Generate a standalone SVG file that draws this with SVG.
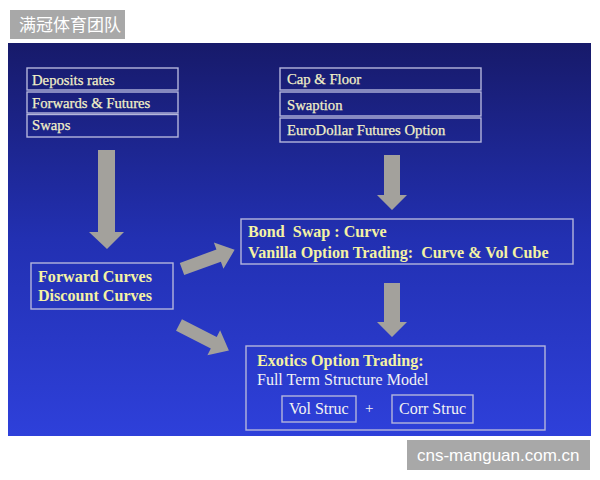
<svg xmlns="http://www.w3.org/2000/svg" width="600" height="480" viewBox="0 0 600 480">
<defs>
<linearGradient id="bg" x1="0" y1="0" x2="0" y2="1">
<stop offset="0" stop-color="#171a6a"/>
<stop offset="0.5" stop-color="#2230b2"/>
<stop offset="1" stop-color="#2e40da"/>
</linearGradient>
<style>
.box{fill:none;stroke:#b4b6dc;stroke-width:1.4}
.t{font-family:"Liberation Serif","Times New Roman",serif;font-size:14.7px;fill:#f2f0c8;stroke:#f2f0c8;stroke-width:0.25}
.b{font-family:"Liberation Serif","Times New Roman",serif;font-size:16.1px;font-weight:bold;fill:#f4f2a4}
.w{font-family:"Liberation Serif","Times New Roman",serif;font-size:16px;fill:#f2f2f2}
.arr{fill:#a3a19c}
.wm{fill:#a8a8a8}
.wmt{font-family:"Noto Sans CJK SC","Noto Sans",sans-serif;font-size:17px;fill:#ffffff}
</style>
</defs>
<rect width="600" height="480" fill="#ffffff"/>
<rect x="8" y="43" width="583" height="393" fill="url(#bg)"/>

<g id="inputs-rates">
<rect class="box" x="27" y="68" width="151" height="22"/>
<rect class="box" x="27" y="92" width="151" height="21"/>
<rect class="box" x="27" y="114.5" width="151" height="22.5"/>
<text class="t" x="32" y="85">Deposits rates</text>
<text class="t" x="32" y="108">Forwards &amp; Futures</text>
<text class="t" x="32" y="130">Swaps</text>
</g>

<g id="inputs-options">
<rect class="box" x="280" y="68" width="201" height="22"/>
<rect class="box" x="280" y="92" width="201" height="24"/>
<rect class="box" x="280" y="118" width="201" height="24"/>
<text class="t" x="287" y="84">Cap &amp; Floor</text>
<text class="t" x="287" y="110">Swaption</text>
<text class="t" x="287" y="135">EuroDollar Futures Option</text>
</g>

<g id="curves">
<rect class="box" x="31" y="263" width="142" height="46"/>
<text class="b" x="38" y="282">Forward Curves</text>
<text class="b" x="38" y="301">Discount Curves</text>
</g>

<g id="vanilla">
<rect class="box" x="241" y="219" width="332" height="45"/>
<text class="b" x="248" y="237" xml:space="preserve">Bond  Swap : Curve</text>
<text class="b" x="248" y="258" xml:space="preserve">Vanilla Option Trading:  Curve &amp; Vol Cube</text>
</g>

<g id="exotics">
<rect class="box" x="246" y="346" width="299" height="84"/>
<text class="b" x="257" y="366">Exotics Option Trading:</text>
<text class="w" x="257" y="385">Full Term Structure Model</text>
<rect class="box" x="282" y="396" width="74" height="26"/>
<text class="w" x="289" y="414">Vol Struc</text>
<text class="w" x="365" y="413" style="font-size:15px">+</text>
<rect class="box" x="392" y="395" width="81" height="28"/>
<text class="w" x="399" y="414">Corr Struc</text>
</g>

<g id="connectors">
<polygon class="arr" points="98,150 115,150 115,232 124,232 107,249 89,232 98,232"/>
<polygon class="arr" points="384,155 400,155 400,195 407,195 392,210 377,195 384,195"/>
<polygon class="arr" points="384,283 400,283 400,322 407,322 392,337 377,322 384,322"/>
<polygon class="arr" transform="translate(182,269) rotate(-20)" points="0,-6.5 39,-6.5 39,-14 56,0 39,14 39,6.5 0,6.5"/>
<polygon class="arr" transform="translate(179,325) rotate(27)" points="0,-6.5 39,-6.5 39,-14 56,0 39,14 39,6.5 0,6.5"/>
</g>

<g id="watermark-top">
<rect class="wm" x="10" y="10" width="115" height="29"/>
<text class="wmt" x="19" y="31">满冠体育团队</text>
</g>
<g id="watermark-bottom">
<rect class="wm" x="407" y="440" width="183" height="30"/>
<text class="wmt" x="417" y="461" style="font-family:'Liberation Sans',Arial,sans-serif;font-size:17px">cns-manguan.com.cn</text>
</g>
</svg>
